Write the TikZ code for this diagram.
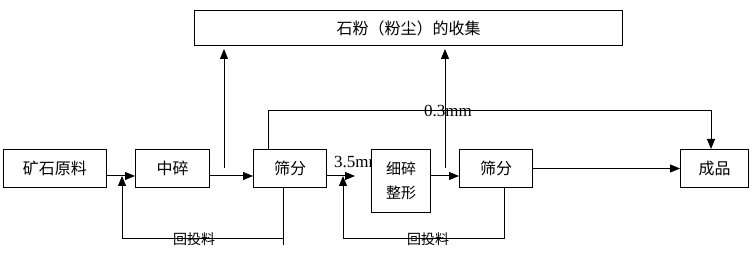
\documentclass[tikz,border=0pt]{standalone}
\usepackage{fontspec}
\setmainfont{Liberation Serif}
\newfontfamily\cjk{Noto Sans CJK SC}
\usetikzlibrary{positioning, arrows.meta}

\begin{document}
\begin{tikzpicture}[
  x=1pt, y=-1pt,
  box/.style={draw, line width=1pt, minimum height=38pt, inner sep=0pt,
              align=center, font=\cjk\fontsize{16}{24}\selectfont},
  line/.style={line width=1pt},
  arr/.style={line width=1pt, -{Triangle[length=10pt,width=8pt]}},
  lbl/.style={font=\cjk\fontsize{14}{16}\selectfont, inner sep=0pt},
  mm/.style={font=\fontsize{17}{19}\selectfont, inner sep=0pt}
]
  \useasboundingbox (0,0) rectangle (752,264);

  % collection box
  \node[box, minimum width=428pt, minimum height=35pt] (dust) at (408.5,28)
    {石粉（粉尘）的收集};

  % main row
  \node[box, minimum width=103pt] (ore) at (55,168.5) {矿石原料};
  \node[box, minimum width=74pt, right=28pt of ore]  (mid)  {中碎};
  \node[box, minimum width=73pt, right=43pt of mid]  (scr1) {筛分};
  \node[mm, anchor=west] (lab35) at (334,162) {3.5mm};
  \node[box, fill=white, minimum width=59pt, minimum height=63pt,
        font=\cjk\fontsize{15}{24}\selectfont,
        anchor=north west] (fine) at ([xshift=44pt]scr1.north east)
    {细碎\\整形};
  \node[box, minimum width=73pt, anchor=north west] (scr2)
    at ([xshift=28pt]fine.north east) {筛分};
  \node[box, minimum width=68pt, right=147pt of scr2] (prod) {成品};

  % joints
  \coordinate (j1) at (122,176);
  \coordinate (fb1) at (122,239);
  \coordinate (j2) at (343,176);
  \coordinate (fb2) at (343,239);
  \coordinate (end35) at (355,176);
  \coordinate (d1) at (224,168);
  \coordinate (d2) at (445,168);
  \coordinate (top) at (268,111);

  % flow
  \draw[arr] ([yshift=-7.5pt]ore.east) -- ([yshift=-7.5pt]mid.west);
  \draw[arr] ([yshift=-7.5pt]mid.east) -- ([yshift=-7.5pt]scr1.west);
  \draw[arr] ([yshift=-7.5pt]scr1.east) -- (end35);
  \draw[arr] ([yshift=-7.5pt]fine.east |- scr1.east) -- ([yshift=-7.5pt]scr2.west);
  \draw[arr] (scr2.east) -- (prod.west);

  % dust
  \draw[arr, shorten >=3pt] (d1) -- (d1 |- dust.south);
  \draw[arr, shorten >=3pt] (d2) -- (d2 |- dust.south);

  % 0.3mm bypass
  \draw[arr] (top |- scr1.north) -- (top) -| ([xshift=-3.5pt]prod.north);
  \node[mm] (lab03) at (448,111) {0.3mm};

  % return feed
  \draw[line] ([xshift=-7pt]scr1.south) -- ++(0,57);
  \draw[arr] ([xshift=-7pt]scr1.south |- fb1) -- (fb1) -- (j1);
  \node[lbl] (ret1) at (194,239) {回投料};
  \draw[arr] ([xshift=8pt]scr2.south) |- (fb2) -- (j2);
  \node[lbl] (ret2) at (428,239) {回投料};
\end{tikzpicture}
\end{document}
